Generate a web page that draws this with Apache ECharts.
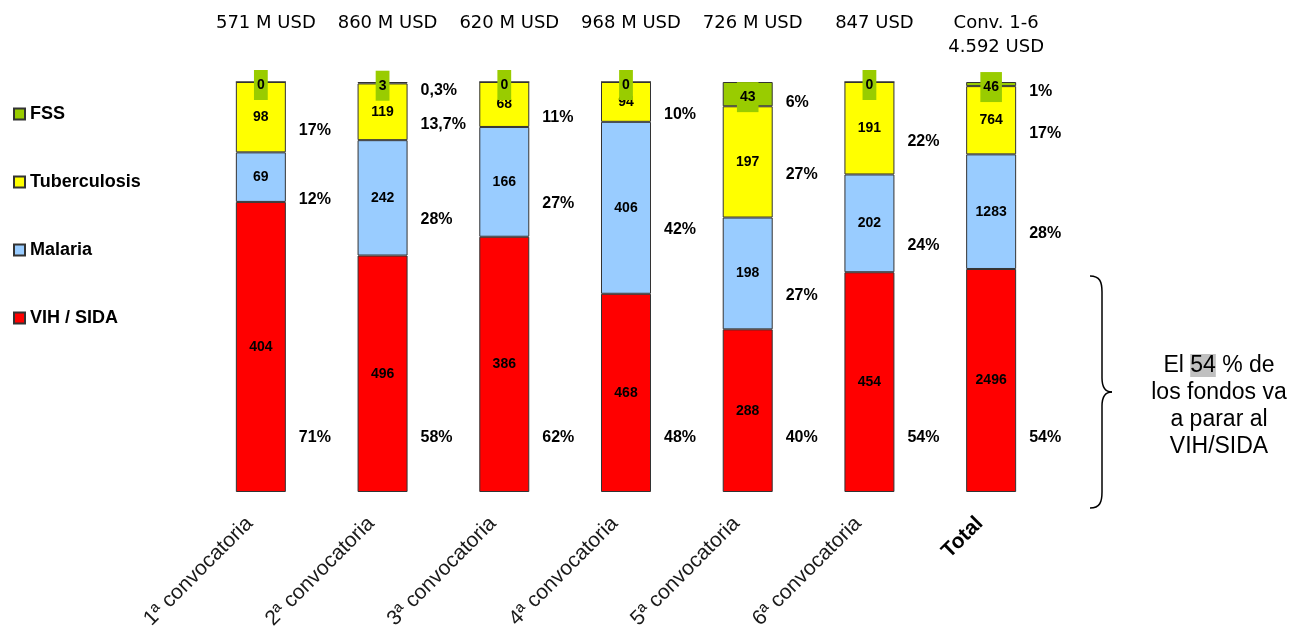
<!DOCTYPE html>
<html>
<head>
<meta charset="utf-8">
<script src="https://cdn.jsdelivr.net/npm/echarts@6/dist/echarts.min.js"></script>
<style>html,body{margin:0;padding:0;background:#fff}#c{width:1303px;height:630px}</style>
</head>
<body>
<div id="c"></div>
<script>
const categories = ['1ª convocatoria', '2ª convocatoria', '3ª convocatoria', '4ª convocatoria', '5ª convocatoria', '6ª convocatoria', 'Total'];
const topLabels = ['571 M USD', '860 M USD', '620 M USD', '968 M USD', '726 M USD', '847 USD', 'Conv. 1-6\n4.592 USD'];
const vih = [404, 496, 386, 468, 288, 454, 2496];
const malaria = [69, 242, 166, 406, 198, 202, 1283];
const tb = [98, 119, 68, 94, 197, 191, 764];
const fss = [0, 3, 0, 0, 43, 0, 46];
const pctVih = ['71%', '58%', '62%', '48%', '40%', '54%', '54%'];
const pctMalaria = ['12%', '28%', '27%', '42%', '27%', '24%', '28%'];
const pctTb = ['17%', '13,7%', '11%', '10%', '27%', '22%', '17%'];
const pctFss = ['', '0,3%', '', '', '6%', '', '1%'];

const totals = categories.map((c, i) => vih[i] + malaria[i] + tb[i] + fss[i]);
function seg(vals, pcts) {
  return vals.map((v, i) => ({ value: v / totals[i] * 100, raw: v, pct: pcts[i] }));
}
const BORDER = '#333333';
const BW = 50;
const valLabel = { show: true, position: 'inside', color: '#000', fontWeight: 'bold', fontSize: 14, fontFamily: 'Liberation Sans', formatter: p => String(p.data.raw) };
function visible(name, vals, pcts, color, extraLabel) {
  return {
    name: name, type: 'bar', stack: 'a', barWidth: BW, barGap: '-100%', clip: false,
    data: seg(vals, pcts),
    itemStyle: { color: color, borderColor: BORDER, borderWidth: 1 },
    label: Object.assign({}, valLabel, extraLabel || {}),
    emphasis: { disabled: true }
  };
}
const pctBase = { show: true, color: '#000', fontWeight: 'bold', fontSize: 16, fontFamily: 'Liberation Sans', align: 'left', formatter: p => p.data.pct };
function overlay(name, vals, pcts, lab) {
  return {
    name: name, type: 'bar', stack: 'b', barWidth: BW, barGap: '-100%', silent: true, clip: false,
    data: seg(vals, pcts),
    itemStyle: { color: 'rgba(0,0,0,0)', borderWidth: 0 },
    label: Object.assign({}, pctBase, lab),
    emphasis: { disabled: true }, z: 3
  };
}
const braceStyle = { stroke: '#000', lineWidth: 1.5, fill: null };
function bz(x1, y1, cx1, cy1, cx2, cy2, x2, y2) {
  return { type: 'bezierCurve', silent: true, shape: { x1, y1, x2, y2, cpx1: cx1, cpy1: cy1, cpx2: cx2, cpy2: cy2 }, style: braceStyle };
}
function ln(x1, y1, x2, y2) {
  return { type: 'line', silent: true, shape: { x1, y1, x2, y2 }, style: braceStyle };
}

const chart = echarts.init(document.getElementById('c'));
chart.setOption({
  animation: false,
  backgroundColor: '#ffffff',
  grid: { left: 200, right: 251, top: 82, bottom: 138, outerBoundsMode: 'none', containLabel: false },
  legend: {
    data: ['FSS', 'Tuberculosis', 'Malaria', 'VIH / SIDA'],
    orient: 'vertical', left: 8, top: 100, itemGap: 50,
    itemWidth: 11, itemHeight: 11, icon: 'rect',
    textStyle: { fontWeight: 'bold', fontSize: 18, color: '#000', fontFamily: 'Liberation Sans' },
    selectedMode: false
  },
  xAxis: [{
    type: 'category', data: categories, position: 'bottom',
    axisLine: { show: false }, axisTick: { show: false },
    axisLabel: {
      interval: 0, rotate: 45, margin: 17, color: '#1a1a1a', fontSize: 21, fontFamily: 'Liberation Sans',
      padding: [0, 16, 0, 0],
      formatter: v => v === 'Total' ? '{b|' + v + '}' : v,
      rich: { b: { fontWeight: 'bold', fontSize: 21, color: '#000', fontFamily: 'Liberation Sans' } }
    }
  }, {
    type: 'category', data: topLabels, position: 'top',
    axisLine: { show: false }, axisTick: { show: false },
    axisLabel: { interval: 0, margin: 71, verticalAlign: 'top', color: '#000', fontSize: 18, lineHeight: 24, fontFamily: 'DejaVu Sans', padding: [0, 0, 0, 10] }
  }],
  yAxis: { type: 'value', min: 0, max: 100, show: false },
  series: [
    visible('VIH / SIDA', vih, pctVih, '#FF0000'),
    visible('Malaria', malaria, pctMalaria, '#99CCFF'),
    visible('Tuberculosis', tb, pctTb, '#FFFF00'),
    visible('FSS', fss, pctFss, '#99CC00', { backgroundColor: '#99CC00', padding: [8, 3, 8, 3], offset: [0, 3] }),
    overlay('pv', vih, pctVih, { position: 'insideBottom', offset: [38, -41] }),
    overlay('pm', malaria, pctMalaria, { position: 'right', distance: 13, offset: [0, 22] }),
    overlay('pt', tb, pctTb, { position: 'right', distance: 13, offset: [0, 13] }),
    overlay('pf', fss, pctFss, { position: 'right', distance: 13, offset: [0, 8] })
  ],
  graphic: [
    bz(1090, 276, 1100, 276, 1102, 282, 1102, 292),
    ln(1102, 292, 1102, 378),
    bz(1102, 378, 1102, 388, 1106, 392, 1112, 392),
    bz(1112, 392, 1106, 392, 1102, 396, 1102, 406),
    ln(1102, 406, 1102, 492),
    bz(1102, 492, 1102, 502, 1100, 508, 1090, 508),
    {
      type: 'text', silent: true, x: 1219, y: 352,
      style: {
        text: '{n|El }{h|54}{n| % de}\n{n|los fondos va}\n{n|a parar al}\n{n|VIH/SIDA}',
        align: 'center', verticalAlign: 'top',
        rich: {
          n: { fontSize: 23, lineHeight: 27, fontFamily: 'Liberation Sans', fill: '#000' },
          h: { fontSize: 23, lineHeight: 27, fontFamily: 'Liberation Sans', fill: '#000', backgroundColor: '#c0c0c0' }
        }
      }
    }
  ]
});
</script>
</body>
</html>
